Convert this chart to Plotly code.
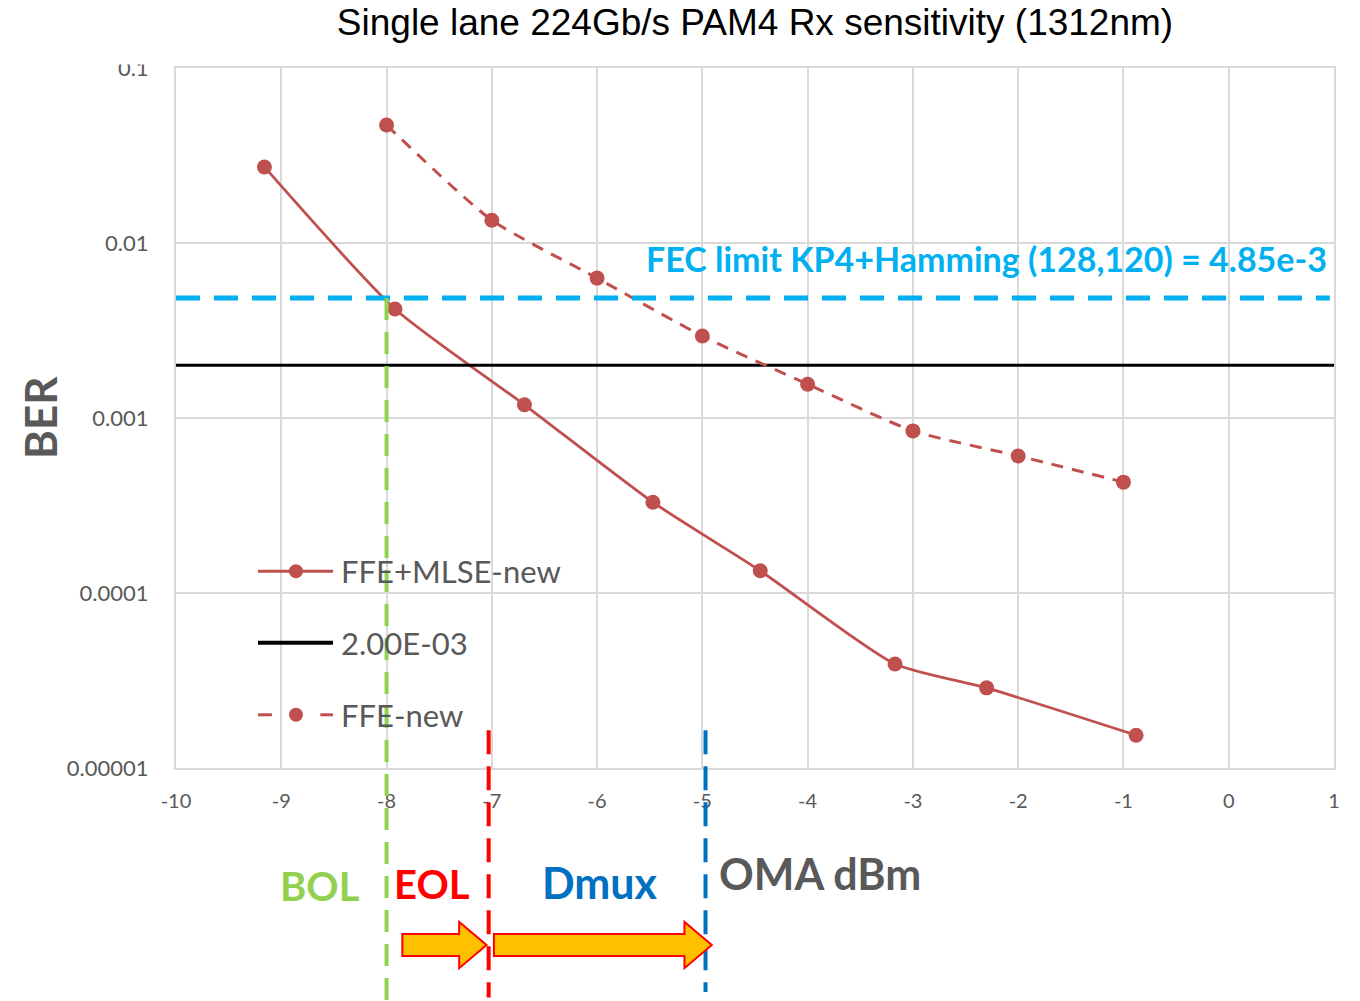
import math
import plotly.graph_objects as go

# ---- data -------------------------------------------------------------
oma_mlse = [-9.16, -7.92, -6.69, -5.47, -4.45, -3.17, -2.30, -0.88]
ber_mlse = [0.0272, 0.0042, 0.00119, 0.00033, 0.000134, 3.93e-5, 2.87e-5, 1.54e-5]

oma_ffe = [-8.0, -7.0, -6.0, -5.0, -4.0, -3.0, -2.0, -1.0]
ber_ffe = [0.0472, 0.0135, 0.0063, 0.00294, 0.00156, 0.000844, 0.000607, 0.00043]

ref_ber = 2.0e-3
fec_limit = 4.85e-3

x_ticks = list(range(-10, 2))
y_tickvals = [1e-5, 1e-4, 1e-3, 1e-2, 1e-1]
y_ticktext = ["0.00001", "0.0001", "0.001", "0.01", "0.1"]

bol_x = -8.0
eol_x = -7.0
dmux_x = -5.0

legend_names = ["FFE+MLSE-new", "2.00E-03", "FFE-new"]

# ---- styles -----------------------------------------------------------
RED = "#C0504D"
GRID = "#D9D9D9"
TXT = "#595959"
FEC_BLUE = "#00B0F0"
GREEN = "#92D050"
EOL_RED = "#FF0000"
DMUX_BLUE = "#0070C0"
CAL = "Lato, 'Open Sans', sans-serif"

X_MIN, X_MAX = -10, 1
Y_LOG_MIN, Y_LOG_MAX = -5, -1


def paper_y(v):
    return (math.log10(v) - Y_LOG_MIN) / (Y_LOG_MAX - Y_LOG_MIN)


fig = go.Figure()

fig.add_trace(go.Scatter(
    x=oma_mlse, y=ber_mlse, mode="lines+markers", name=legend_names[0],
    line=dict(color=RED, width=2.8, shape="spline", smoothing=0.6),
    marker=dict(color=RED, size=15), showlegend=False, cliponaxis=False))

fig.add_trace(go.Scatter(
    x=[X_MIN, X_MAX], y=[ref_ber, ref_ber], mode="lines", name=legend_names[1],
    line=dict(color="black", width=3), showlegend=False))

fig.add_trace(go.Scatter(
    x=oma_ffe, y=ber_ffe, mode="lines+markers", name=legend_names[2],
    line=dict(color=RED, width=3, dash="12px,9px", shape="spline", smoothing=0.6),
    marker=dict(color=RED, size=15), showlegend=False, cliponaxis=False))

# FEC limit line
fig.add_trace(go.Scatter(
    x=[X_MIN, X_MAX - 0.04], y=[fec_limit, fec_limit], mode="lines",
    line=dict(color=FEC_BLUE, width=5, dash="24px,14px"),
    showlegend=False, hoverinfo="skip"))

shapes = []
annotations = []

# vertical markers for BOL / EOL / Dmux
shapes.append(dict(type="line", xref="x", yref="paper", x0=bol_x, x1=bol_x,
                   y0=paper_y(fec_limit), y1=-0.333,
                   line=dict(color=GREEN, width=4, dash="22px,12px"), layer="above"))
shapes.append(dict(type="line", xref="x", yref="paper", x0=eol_x - 0.03, x1=eol_x - 0.03,
                   y0=0.054, y1=-0.328,
                   line=dict(color=EOL_RED, width=4, dash="24px,12px"), layer="above"))
shapes.append(dict(type="line", xref="x", yref="paper", x0=dmux_x + 0.03, x1=dmux_x + 0.03,
                   y0=0.054, y1=-0.32,
                   line=dict(color=DMUX_BLUE, width=4, dash="24px,12px"), layer="above"))


def block_arrow(x0, x1, yc, shaft_h, head_h, head_len):
    xh = x1 - head_len
    return (f"M{x0},{yc + shaft_h} L{xh},{yc + shaft_h} L{xh},{yc + head_h} "
            f"L{x1},{yc} L{xh},{yc - head_h} L{xh},{yc - shaft_h} "
            f"L{x0},{yc - shaft_h} Z")


arrow_y = -0.253
for a0, a1 in [(-7.85, -7.05), (-6.98, -4.91)]:
    shapes.append(dict(type="path", xref="x", yref="paper",
                       path=block_arrow(a0, a1, arrow_y, 0.0157, 0.033, 0.26),
                       fillcolor="#FFC000", line=dict(color=EOL_RED, width=2),
                       layer="above"))

# hand-drawn legend block
leg_x0, leg_x1, leg_mx, leg_tx = 0.0708, 0.1356, 0.1036, 0.1405
leg_rows = [0.281, 0.179, 0.076]
# row 1: solid with marker
shapes.append(dict(type="line", xref="paper", yref="paper", x0=leg_x0, x1=leg_x1,
                   y0=leg_rows[0], y1=leg_rows[0], line=dict(color=RED, width=3)))
# row 2: black reference line
shapes.append(dict(type="line", xref="paper", yref="paper", x0=leg_x0, x1=leg_x1,
                   y0=leg_rows[1], y1=leg_rows[1], line=dict(color="black", width=4)))
# row 3: dashed with marker
shapes.append(dict(type="line", xref="paper", yref="paper", x0=leg_x0, x1=leg_x0 + 0.012,
                   y0=leg_rows[2], y1=leg_rows[2], line=dict(color=RED, width=3)))
shapes.append(dict(type="line", xref="paper", yref="paper", x0=leg_x1 - 0.011, x1=leg_x1,
                   y0=leg_rows[2], y1=leg_rows[2], line=dict(color=RED, width=3)))
for ry in (leg_rows[0], leg_rows[2]):
    shapes.append(dict(type="circle", xref="paper", yref="paper", xsizemode="pixel",
                       ysizemode="pixel", xanchor=leg_mx, yanchor=ry,
                       x0=-7, x1=7, y0=-7, y1=7,
                       fillcolor=RED, line=dict(color=RED, width=0)))
for name, ry in zip(legend_names, leg_rows):
    annotations.append(dict(xref="paper", yref="paper", x=leg_tx, y=ry, text=name,
                            showarrow=False, xanchor="left", yanchor="middle",
                            font=dict(family=CAL, size=31, color=TXT)))

# cover the upper edge of the top tick label
shapes.append(dict(type="rect", xref="paper", yref="paper", x0=-0.12, x1=-0.005,
                   y0=1.005, y1=1.03, fillcolor="white", line=dict(width=0),
                   layer="above"))

# y-axis title
annotations.append(dict(xref="paper", yref="paper", x=-0.1174, y=0.5, text="<b>BER</b>",
                        textangle=-90, showarrow=False, xanchor="center", yanchor="middle",
                        font=dict(family=CAL, size=44, color=TXT)))

# FEC limit label
annotations.append(dict(xref="x", yref="y", x=X_MAX - 0.05, y=math.log10(fec_limit),
                        text="<b>FEC limit KP4+Hamming (128,120) = 4.85e-3</b>",
                        showarrow=False, xanchor="right", yanchor="bottom", yshift=17,
                        font=dict(family=CAL, size=34, color=FEC_BLUE)))

# region labels below the axis
annotations.append(dict(xref="x", yref="paper", x=-8.63, y=-0.169, text="<b>BOL</b>",
                        showarrow=False, yanchor="middle",
                        font=dict(family=CAL, size=40, color=GREEN)))
annotations.append(dict(xref="x", yref="paper", x=-7.57, y=-0.166, text="<b>EOL</b>",
                        showarrow=False, yanchor="middle",
                        font=dict(family=CAL, size=40, color=EOL_RED)))
annotations.append(dict(xref="x", yref="paper", x=-5.97, y=-0.163, text="<b>Dmux</b>",
                        showarrow=False, yanchor="middle",
                        font=dict(family=CAL, size=43, color=DMUX_BLUE)))
annotations.append(dict(xref="x", yref="paper", x=-4.86, y=-0.151, text="<b>OMA dBm</b>",
                        showarrow=False, xanchor="left", yanchor="middle",
                        font=dict(family=CAL, size=43, color=TXT)))

fig.update_layout(
    width=1360, height=1001,
    margin=dict(l=176, r=26, t=68, b=233),
    paper_bgcolor="white", plot_bgcolor="white",
    title=dict(text="Single lane 224Gb/s PAM4 Rx sensitivity (1312nm)",
               x=0.5, xref="paper", xanchor="center", y=0.978, yanchor="middle",
               font=dict(family="Liberation Sans, Arial, sans-serif", size=37, color="black")),
    shapes=shapes, annotations=annotations,
    xaxis=dict(range=[X_MIN, X_MAX], tickmode="array", tickvals=x_ticks,
               ticktext=[str(t) for t in x_ticks],
               showgrid=True, gridcolor=GRID, gridwidth=2,
               showline=True, linecolor=GRID, linewidth=2, mirror=True,
               ticks="", ticklabelstandoff=14, zeroline=False,
               tickfont=dict(family=CAL, size=20, color=TXT)),
    yaxis=dict(type="log", range=[Y_LOG_MIN, Y_LOG_MAX], tickmode="array",
               tickvals=y_tickvals, ticktext=y_ticktext,
               showgrid=True, gridcolor=GRID, gridwidth=2,
               showline=True, linecolor=GRID, linewidth=2, mirror=True,
               ticks="", ticklabelstandoff=21, zeroline=False,
               tickfont=dict(family=CAL, size=22, color=TXT)),
)

fig.write_html("out.html")
